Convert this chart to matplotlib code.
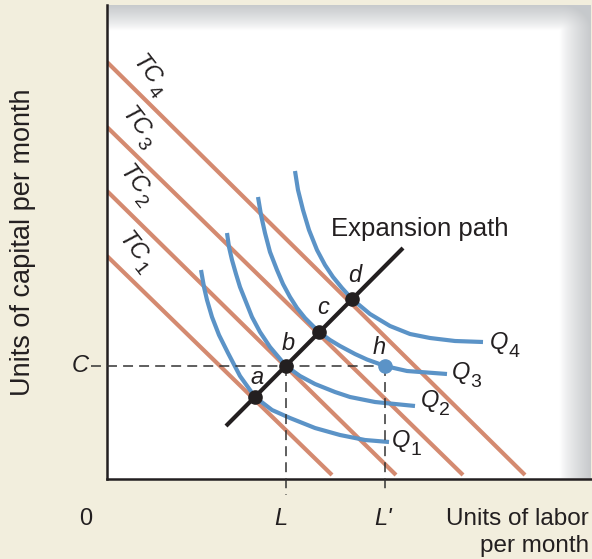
import numpy as np
import matplotlib.pyplot as plt

plt.rcParams['font.family'] = ['Liberation Sans', 'DejaVu Sans']

# isocost lines: capital where labor = 0, labor where the line stops (capital = 4)
tc_subs = ['1', '2', '3', '4']
tc_k0 = [223, 288, 352, 417]
tc_l1 = [225, 289, 356, 418]
tc_kend = 4
tc_label_l = [16, 17, 19, 30]
tc_label_k = [244, 311, 369, 421]

# isoquants (labor, capital)
q1_l = [94, 97, 100, 105, 112, 121, 133, 148, 165, 183, 208, 233, 258, 282]
q1_k = [209, 192, 179, 162, 144, 126, 103, 82, 69, 61, 51, 44, 39, 37]
q2_l = [120, 122, 125, 129, 133, 139, 145, 153, 163, 179, 193, 208, 228, 243, 268, 308]
q2_k = [246, 232, 219, 205, 192, 177, 162, 147, 132, 113, 103, 95, 87, 82, 77, 73]
q3_l = [151, 154, 158, 163, 170, 176, 183, 190, 198, 212, 223, 233, 248, 260, 278, 300, 340]
q3_k = [282, 264, 246, 227, 209, 195, 182, 171, 161, 147, 139, 133, 125, 119.5, 113, 108, 105]
q4_l = [188, 191, 196, 202, 210, 218, 226, 235, 245, 263, 283, 303, 323, 348, 376]
q4_k = [308, 289, 269, 249, 229, 214, 202, 191, 180, 165, 153, 145, 141, 138, 137]
q_subs = ['1', '2', '3', '4']
q_label_l = [285, 314, 345, 383]
q_label_k = [39, 79, 107, 137]

# expansion path and tangency points
path_l = [119, 296]
path_k = [53, 231]
pt_names = ['a', 'b', 'c', 'd']
pt_l = [148, 179, 212, 245]
pt_k = [82, 113, 147, 180]
pt_label_l = [150, 181, 216, 248]
pt_label_k = [102, 136, 171, 204]
h_l, h_k = 278, 113
C_level = 113
L_val, L2_val = 179, 278

orange = '#d48a70'
blue = '#5b93c7'
ink = '#231f20'

fig = plt.figure(figsize=(5.92, 5.59), dpi=100, facecolor='#f2eedd')
ax = fig.add_axes([107/592, 80/559, 484/592, 474/559])
ax.set_xlim(0, 484)
ax.set_ylim(0, 474)

# white panel fading to grey along the top and right edges
GX, GY = np.meshgrid(np.arange(484) + 0.5, np.arange(474) + 0.5)
u = np.clip((GX - 453) / 31, 0, 1)
v = np.clip((GY - 449) / 25, 0, 1)
s = np.clip(np.hypot(u, v), 0, 1) ** 0.8
grey = np.array([0.78, 0.79, 0.80])
img = 1 - s[..., None] * (1 - grey)
ax.imshow(img, extent=(0, 484, 0, 474), origin='lower', aspect='auto',
          interpolation='bilinear', zorder=0)

for sp in ['top', 'right']:
    ax.spines[sp].set_visible(False)
for sp in ['left', 'bottom']:
    ax.spines[sp].set_linewidth(1.8)
    ax.spines[sp].set_color(ink)
ax.set_xticks([])
ax.set_yticks([])


def sub_label(x, y, main, sub, rot=0, size=17, sub_size=14, dx=13, dy=-7):
    ax.annotate(main, (x, y), ha='left', va='center', rotation=rot,
                rotation_mode='anchor', fontsize=size, fontstyle='italic',
                color=ink, annotation_clip=False)
    t = np.radians(rot)
    ox = dx * np.cos(t) - dy * np.sin(t)
    oy = dx * np.sin(t) + dy * np.cos(t)
    ax.annotate(sub, (x, y), xytext=(ox, oy), textcoords='offset points',
                ha='left', va='center', rotation=rot, rotation_mode='anchor',
                fontsize=sub_size, color=ink, annotation_clip=False)


# isocost lines
for k0, l1, sub, lx, ly in zip(tc_k0, tc_l1, tc_subs, tc_label_l, tc_label_k):
    ax.plot([0, l1], [k0, tc_kend], color=orange, lw=3, solid_capstyle='butt', zorder=2)
    sub_label(lx, ly, 'TC', sub, rot=-52, dx=22.5, dy=-6)

# isoquants
for ql, qk in [(q1_l, q1_k), (q2_l, q2_k), (q3_l, q3_k), (q4_l, q4_k)]:
    ax.plot(ql, qk, color=blue, lw=3, solid_capstyle='butt', solid_joinstyle='round', zorder=3)
for sub, lx, ly in zip(q_subs, q_label_l, q_label_k):
    sub_label(lx, ly, 'Q', sub, dx=13, dy=-7.5)

# dashed guides
dash = dict(color='#333333', lw=1.1, dashes=(6.5, 4), clip_on=False, zorder=4)
ax.plot([-16, h_l], [C_level, C_level], **dash)
ax.plot([L_val, L_val], [C_level, -16], **dash)
ax.plot([L2_val, L2_val], [h_k, -14], **dash)

# expansion path
ax.plot(path_l, path_k, color=ink, lw=3, solid_capstyle='butt', zorder=5)
ax.plot(pt_l, pt_k, 'o', color=ink, ms=9.5, zorder=6)
ax.plot([h_l], [h_k], 'o', color=blue, ms=9.5, zorder=6)
for n, lx, ly in zip(pt_names, pt_label_l, pt_label_k):
    ax.text(lx, ly, n, fontsize=17, fontstyle='italic', ha='center', va='center', color=ink)
ax.text(272, 132, 'h', fontsize=17, fontstyle='italic', ha='center', va='center', color=ink)
ax.text(313, 250, 'Expansion path', fontsize=18.5, ha='center', va='center', color=ink)

# axis text
ax.text(-27, 114, 'C', fontsize=17, fontstyle='italic', ha='center', va='center', color=ink)
ax.text(-21, -46, '0', fontsize=17, ha='center', va='baseline', color=ink)
ax.text(L_val - 5, -46, 'L', fontsize=17, fontstyle='italic', ha='center', va='baseline', color=ink)
ax.text(L2_val - 2, -46, "L'", fontsize=17, fontstyle='italic', ha='center', va='baseline', color=ink)
ax.text(482, -46, 'Units of labor', fontsize=17.5, ha='right', va='baseline', color=ink)
ax.text(482, -73, 'per month', fontsize=17.5, ha='right', va='baseline', color=ink)
ax.text(-84, 237, 'Units of capital per month', fontsize=19.5, rotation=90,
        ha='center', va='center', color=ink)

fig.savefig('out.png', dpi=100, facecolor=fig.get_facecolor())
